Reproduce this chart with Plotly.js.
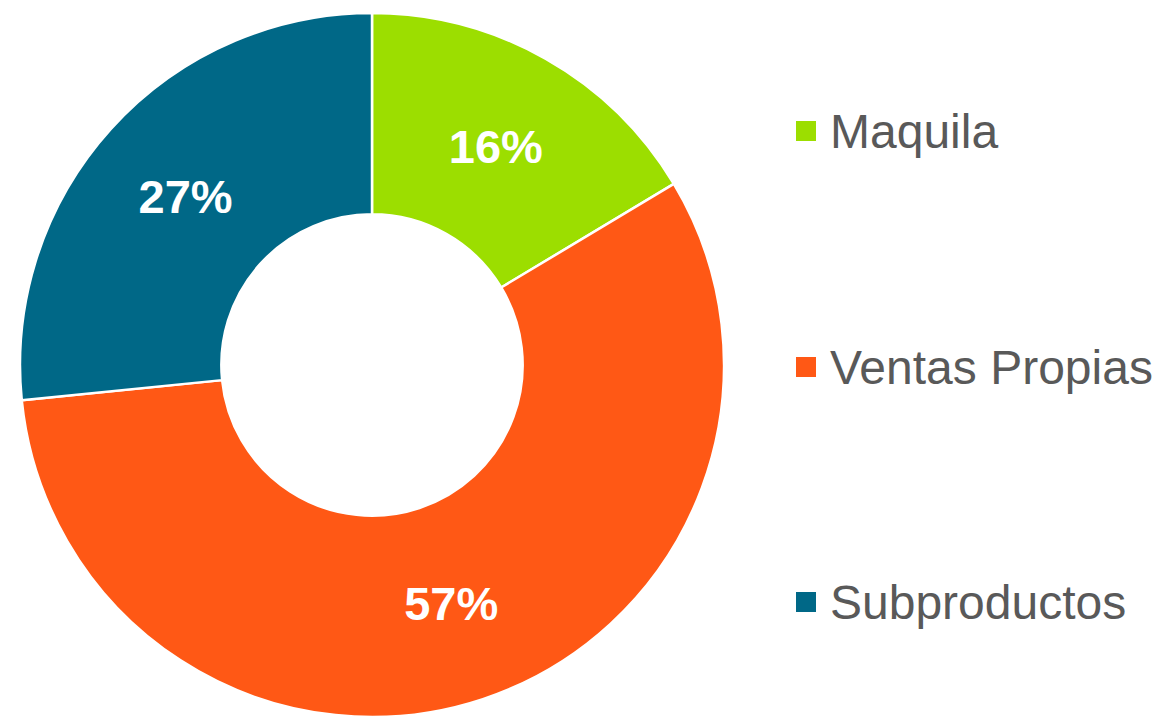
<!DOCTYPE html>
<html>
<head>
<meta charset="utf-8">
<script src="https://cdn.plot.ly/plotly-3.0.1.min.js"></script>
<style>html,body{margin:0;padding:0;background:#fff;}#chart{width:1162px;height:718px;}</style>
</head>
<body>
<div id="chart"></div>
<script>
var categories = ["Maquila", "Ventas Propias", "Subproductos"];
var shares = [16.4, 57.0, 26.6];
var colors = ["#9CDE00", "#FF5815", "#006887"];
var legendY = [131, 367, 602];

var W = 1162, H = 718;
var cx = 372, cy = 365, R = 352;

var trace = {
  type: "pie",
  labels: categories,
  values: shares,
  sort: false,
  direction: "clockwise",
  rotation: 0,
  hole: 0.428,
  marker: {colors: colors, line: {color: "#ffffff", width: 2.5}},
  texttemplate: "%{percent:.0%}",
  textposition: "inside",
  insidetextorientation: "horizontal",
  textfont: {family: "Liberation Sans, Arial, sans-serif", size: 47, color: "#ffffff", weight: "bold"},
  hoverinfo: "label+percent",
  showlegend: false,
  domain: {x: [(cx - R) / W, (cx + R) / W], y: [1 - (cy + R) / H, 1 - (cy - R) / H]}
};

var shapes = [], annotations = [];
categories.forEach(function (c, i) {
  var y = legendY[i];
  shapes.push({type: "rect", xref: "paper", yref: "paper",
    x0: 796 / W, x1: 816 / W, y0: 1 - (y + 10) / H, y1: 1 - (y - 10) / H,
    fillcolor: colors[i], line: {width: 0}});
  annotations.push({xref: "paper", yref: "paper", x: 828 / W, y: 1 - y / H,
    xanchor: "left", yanchor: "middle", showarrow: false, text: c,
    font: {family: "Liberation Sans, Arial, sans-serif", size: 48, color: "#595959"}});
});

var layout = {
  width: W, height: H,
  margin: {l: 0, r: 0, t: 0, b: 0},
  paper_bgcolor: "#ffffff",
  showlegend: false,
  shapes: shapes,
  annotations: annotations
};

Plotly.newPlot("chart", [trace], layout, {displayModeBar: false});
</script>
</body>
</html>
